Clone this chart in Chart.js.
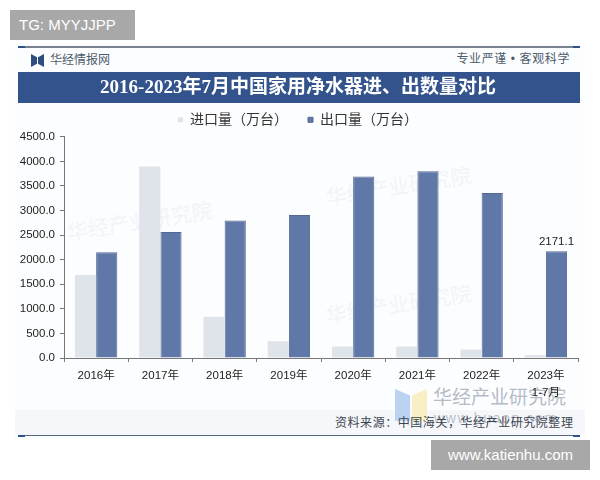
<!DOCTYPE html>
<html>
<head>
<meta charset="utf-8">
<script src="https://cdn.jsdelivr.net/npm/chart.js@4"></script>
<style>
html,body{margin:0;padding:0;background:#fff;}
body{width:600px;height:480px;overflow:hidden;position:relative;font-family:"Liberation Sans","Noto Sans CJK SC",sans-serif;}
.a{position:absolute;white-space:nowrap;}
.wm{position:absolute;white-space:nowrap;font-size:21px;color:#f1f4f9;transform:rotate(-9deg);}
canvas{position:absolute;left:0;top:0;}
</style>
</head>
<body>
<div class="a" style="left:15px;top:43px;width:570px;height:396px;background:#fcfdfe;"></div>
<div class="a" style="left:10px;top:10px;width:125px;height:30px;background:#a8a8a8;color:#fff;font-size:15px;line-height:30px;text-indent:9px;">TG: MYYJJPP</div>
<div class="a" style="left:18px;top:46px;width:562px;height:2px;background:#77828e;"></div>
<div class="a" style="left:18px;top:46px;width:7px;height:2px;background:#2f5288;"></div>
<div class="a" style="left:573px;top:46px;width:7px;height:2px;background:#2f5288;"></div>
<div class="a" style="left:31px;top:54px;width:6px;height:13px;background:#2c4f80;clip-path:polygon(0 0,100% 25%,100% 75%,0 100%);"></div>
<div class="a" style="left:38px;top:54px;width:6px;height:13px;background:#2c4f80;clip-path:polygon(0 25%,100% 0,100% 100%,0 75%);"></div>
<div class="a" style="left:50px;top:53px;font-size:12px;line-height:15px;color:#4c5c6c;">华经情报网</div>
<div class="a" style="right:30px;top:52px;font-size:12px;line-height:15px;letter-spacing:.6px;color:#4c5c6c;">专业严谨 • 客观科学</div>
<div class="a" style="left:18px;top:72px;width:562px;height:31px;background:#33538c;"></div>
<div class="wm" style="left:66px;top:205px;">华经产业研究院</div>
<div class="wm" style="left:325px;top:170px;">华经产业研究院</div>
<div class="wm" style="left:325px;top:288px;">华经产业研究院</div>
<div class="a" style="left:15px;top:410px;width:570px;height:25px;background:#f6f7fa;"></div>
<div class="a" style="left:395px;top:389px;width:15px;height:32px;background:#b9d3f0;clip-path:polygon(0 0,100% 20%,100% 100%,0 100%);"></div>
<div class="a" style="left:412px;top:389px;width:15px;height:32px;background:#f8f0c4;clip-path:polygon(0 20%,100% 0,100% 100%,0 100%);"></div>
<div class="a" style="left:433px;top:385px;font-size:19px;line-height:26px;color:#b4bcc6;">华经产业研究院</div>
<div class="a" style="left:434px;top:410px;font-size:14px;line-height:16px;letter-spacing:1.6px;color:#b9c0ca;">www.huaon.com</div>
<div class="a" style="left:335px;top:416px;font-size:12px;line-height:15px;letter-spacing:.55px;color:#3c4650;">资料来源：中国海关，华经产业研究院整理</div>
<div class="a" style="left:18px;top:435px;width:562px;height:1px;background:#55677a;"></div>
<div class="a" style="left:18px;top:435px;width:7px;height:2px;background:#2f5288;"></div>
<div class="a" style="left:573px;top:435px;width:7px;height:2px;background:#2f5288;"></div>
<div class="a" style="left:431px;top:440px;width:159px;height:30px;background:#a8a8a8;color:#fff;font-size:15px;line-height:30px;text-align:center;">www.katienhu.com</div>
<canvas id="chart" width="600" height="480"></canvas>
<script>
var categories = ["2016年","2017年","2018年","2019年","2020年","2021年","2022年",["2023年","1-7月"]];
var importValues = [1689,3898,838,340,235,235,173,60];
var exportValues = [2153,2561,2797,2908,3690,3800,3358,2171.1];
var labelledIndex = 7;
var fontName = '"Liberation Sans","Noto Sans CJK SC",sans-serif';

Chart.defaults.animation = false;

// only the last export bar carries a value label in the source
var lastBarLabel = {
	id: "lastBarLabel",
	afterDatasetsDraw: function(chart) {
		var bar = chart.getDatasetMeta(1).data[labelledIndex];
		var ctx = chart.ctx;
		ctx.save();
		ctx.fillStyle = "#222";
		ctx.font = "11.5px " + fontName;
		ctx.textAlign = "center";
		ctx.fillText(exportValues[labelledIndex].toFixed(1), bar.x, bar.y - 9);
		ctx.restore();
	}
};

var chart = new Chart(document.getElementById("chart"), {
	type: "bar",
	data: {
		labels: categories,
		datasets: [
			{ label: "进口量（万台）", data: importValues, backgroundColor: "#dfe3ea", borderWidth: 0 },
			{ label: "出口量（万台）", data: exportValues, backgroundColor: "#5f78a8", borderColor: "#54698f", borderWidth: 1 }
		]
	},
	options: {
		responsive: false,
		layout: { padding: { left: 18, right: 22, top: 0, bottom: 77 } },
		datasets: { bar: { categoryPercentage: 0.66, barPercentage: 1 } },
		plugins: {
			title: {
				display: true,
				text: "2016-2023年7月中国家用净水器进、出数量对比",
				color: "#fff",
				font: { family: '"Liberation Serif","Noto Sans CJK SC",serif', size: 19, weight: "bold" },
				padding: { top: 77, bottom: 0 }
			},
			legend: {
				display: true,
				labels: {
					usePointStyle: true,
					pointStyle: "rect",
					boxWidth: 5,
					boxHeight: 5,
					padding: 13,
					color: "#333",
					font: { family: fontName, size: 14 },
					// wider gap between the two entries without making the legend taller
					generateLabels: function(chart) {
						var items = Chart.defaults.plugins.legend.labels.generateLabels(chart);
						items[0].text += "\u3000";
						return items;
					}
				}
			},
			tooltip: { enabled: false }
		},
		scales: {
			x: {
				// tall enough for the two-line 2023 label, ticks get clipped to this box
				afterFit: function(scale) { scale.height = 45; },
				border: { color: "#777" },
				grid: { drawOnChartArea: false, offset: true, tickLength: 4, color: "#777" },
				ticks: { color: "#222", maxRotation: 0, autoSkip: false, padding: 5, font: { family: fontName, size: 11.5, lineHeight: 1.5 } }
			},
			y: {
				min: 0,
				max: 4500,
				afterFit: function(scale) { scale.width = 46; },
				border: { color: "#777" },
				grid: { drawOnChartArea: false, tickLength: 4, color: "#777" },
				ticks: {
					stepSize: 500,
					color: "#222",
					padding: 5,
					font: { family: fontName, size: 11.5 },
					callback: function(v) { return v.toFixed(1); }
				}
			}
		}
	},
	plugins: [lastBarLabel]
});
</script>
</body>
</html>
